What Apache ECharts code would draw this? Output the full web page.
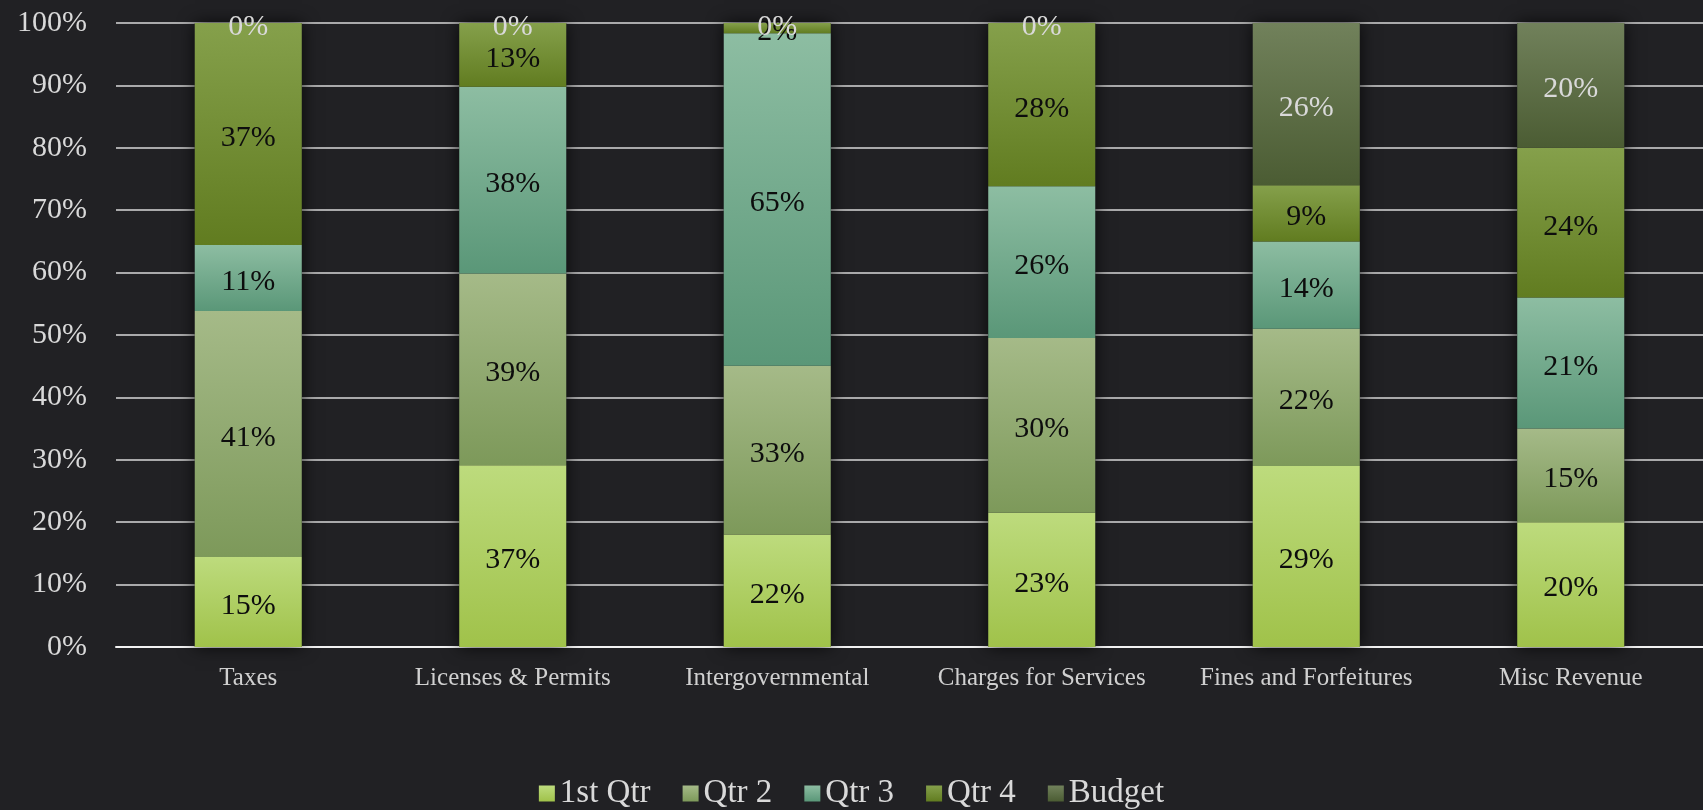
<!DOCTYPE html>
<html>
<head>
<meta charset="utf-8">
<script src="https://cdn.jsdelivr.net/npm/echarts@6/dist/echarts.min.js"></script>
<style>
  html, body { margin: 0; padding: 0; background: #212124; }
  #chart { width: 1703px; height: 810px; }
</style>
</head>
<body>
<div id="chart"></div>
<script>
const categories = ["Taxes", "Licenses & Permits", "Intergovernmental", "Charges for Services", "Fines and Forfeitures", "Misc Revenue"];
const yTicks = [0, 10, 20, 30, 40, 50, 60, 70, 80, 90, 100];

// shares as labelled in the picture (percent)
const qtr1 = [15, 37, 22, 23, 29, 20];
const qtr2 = [41, 39, 33, 30, 22, 15];
const qtr3 = [11, 38, 65, 26, 14, 21];
const qtr4 = [37, 13, 2, 28, 9, 24];
const budget = [0, 0, 0, 0, 26, 20];

const seriesDefs = [
  { name: "1st Qtr", values: qtr1, top: "#bddb7d", bottom: "#a0c24a", label: "#0d0d0d" },
  { name: "Qtr 2", values: qtr2, top: "#a5ba88", bottom: "#7d995a", label: "#0d0d0d" },
  { name: "Qtr 3", values: qtr3, top: "#8dbda2", bottom: "#5a9778", label: "#0d0d0d" },
  { name: "Qtr 4", values: qtr4, top: "#85a04b", bottom: "#617c20", label: "#0d0d0d" },
  { name: "Budget", values: budget, top: "#71815b", bottom: "#4b5c33", label: "#d9d9d9" },
];

// each bar is a 100% stack
const totals = categories.map((c, i) => seriesDefs.reduce((s, d) => s + d.values[i], 0));

const chart = echarts.init(document.getElementById("chart"));
const font = "'Liberation Serif', 'DejaVu Serif', serif";

const series = [
  {
    name: "_shadow",
    type: "bar",
    stack: "bg",
    silent: true,
    barWidth: 107,
    barGap: "-100%",
    z: 1,
    data: categories.map(() => 100),
    itemStyle: { color: "#212124", shadowBlur: 16, shadowColor: "rgba(0,0,0,0.75)" },
    label: { show: false },
  },
  ...seriesDefs.map((d) => ({
    name: d.name,
    type: "bar",
    stack: "total",
    barWidth: 107,
    barGap: "-100%",
    z: 2,
    data: d.values.map((v, i) => (v / totals[i]) * 100),
    itemStyle: {
      color: new echarts.graphic.LinearGradient(0, 0, 0, 1, [
        { offset: 0, color: d.top },
        { offset: 1, color: d.bottom },
      ]),
    },
    label: {
      show: true,
      position: "inside",
      offset: [0, 4],
      color: d.label,
      fontFamily: font,
      fontSize: 30,
      formatter: (p) => d.values[p.dataIndex] + "%",
    },
  })),
];

const option = {
  backgroundColor: "#212124",
  animation: false,
  grid: { left: 116, right: 0, top: 23, bottom: 163 },
  legend: {
    data: seriesDefs.map((d) => d.name),
    top: 772,
    left: "center",
    icon: "rect",
    itemWidth: 16,
    itemHeight: 16,
    itemGap: 32,
    textStyle: { color: "#d9d9d9", fontFamily: font, fontSize: 33 },
  },
  xAxis: {
    type: "category",
    data: categories,
    axisLine: { lineStyle: { color: "#f2f2f2", width: 2 } },
    axisTick: { show: false },
    axisLabel: { interval: 0, color: "#d0d0d0", fontFamily: font, fontSize: 25, margin: 19 },
  },
  yAxis: {
    type: "value",
    min: yTicks[0],
    max: yTicks[yTicks.length - 1],
    interval: 10,
    axisLine: { show: false },
    axisTick: { show: false },
    axisLabel: { color: "#d9d9d9", fontFamily: font, fontSize: 30, margin: 29, formatter: "{value}%" },
    splitLine: { lineStyle: { color: "#d9d9d9", width: 1.5 } },
  },
  series: series,
};

chart.setOption(option);
</script>
</body>
</html>
